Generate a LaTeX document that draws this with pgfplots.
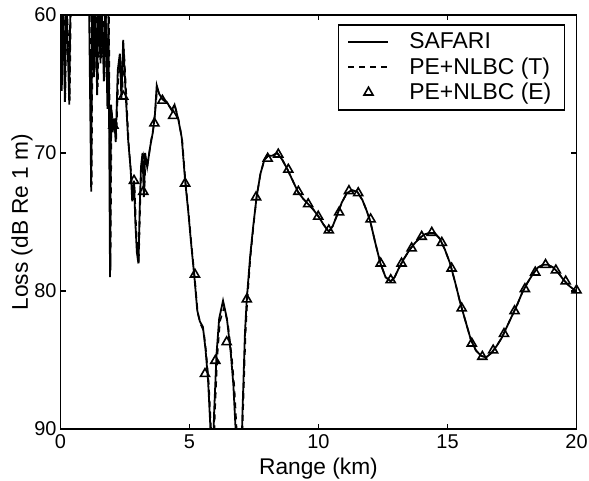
\documentclass[border=0pt]{standalone}
\usepackage{fontspec}
\setmainfont{Liberation Sans}
\usepackage{pgfplots}
\pgfplotsset{compat=1.18}
\usetikzlibrary{calc}
\pgfplotsset{
  lineleg/.style={legend image code/.code={\draw[##1] (0bp,0bp) -- (20bp,0bp); \path (28bp,0bp);}},
  markleg/.style={legend image code/.code={\draw[##1] plot coordinates {(10bp,0bp)}; \path (0bp,0bp) (28bp,0bp);}},
}

\begin{document}
\begin{tikzpicture}
\begin{axis}[
    scale only axis,
    width=258bp, height=207bp,
    xmin=0, xmax=20, ymin=60, ymax=90,
    y dir=reverse,
    xtick={0,5,10,15,20}, ytick={60,70,80,90},
    tick align=inside, tick pos=both,
    major tick length=2.6bp,
    axis line style={line width=0.9bp},
    every tick/.style={black, line width=0.8bp},
    /pgf/number format/assume math mode=true,
    tick label style={font=\fontsize{10}{12}\selectfont},
    xticklabel style={yshift=0.5bp},
    yticklabel style={xshift=1.5bp},
    label style={font=\fontsize{11.4}{13}\selectfont},
    xlabel={Range (km)},
    ylabel={Loss (dB Re 1 m)},
    xlabel style={yshift=2.5bp},
    ylabel style={yshift=-6bp},
    legend style={at={(axis description cs:0.978,0.978)}, anchor=north east,
        draw=black, line width=0.8bp, font=\fontsize{11.5}{11}\selectfont,
        inner xsep=4.5bp, inner ysep=2bp, row sep=-1.2bp,
        cells={anchor=west}},
    legend cell align=left,
]
% SAFARI
\addplot[black, line width=0.9bp, lineleg]
coordinates {
(0.00,58) (0.05,65.5) (0.09,58) (0.17,66.3) (0.22,58) (0.34,66.5) (0.39,58)
(1.10,58) (1.19,72.8) (1.23,58) (1.30,64.5) (1.34,58) (1.42,65.8) (1.47,58)
(1.55,63.5) (1.60,59) (1.68,64.8) (1.74,59) (1.82,66.8) (1.86,60)
(1.92,79) (1.96,66.5) (2.02,68.5) (2.08,67.5) (2.14,69.2) (2.22,64)
(2.30,62.8) (2.36,66) (2.43,61.8) (2.52,65.5) (2.62,69) (2.72,71.2)
(2.78,73.5) (2.85,72) (2.90,75) (2.96,77.2) (3.02,78) (3.07,74)
(3.12,71) (3.18,70) (3.23,73.2) (3.28,70) (3.36,71) (3.48,69.5)
(3.58,68.5) (3.66,67.2) (3.73,65.1) (3.82,65.7) (3.92,66.0) (4.12,66.3)
(4.31,66.9) (4.42,66.5) (4.57,67.6) (4.70,68.9) (4.83,72.0) (4.95,74.2)
(5.05,76.3) (5.20,79.2) (5.30,81.4) (5.40,82.2) (5.52,82.6) (5.62,84.2)
(5.72,86.5) (5.80,89.5) (5.86,93) (5.90,93) (5.95,89) (6.05,84.5)
(6.15,82) (6.30,80.7) (6.45,82) (6.60,84.5) (6.70,86.8) (6.80,90.5)
(6.85,93) (7.00,93) (7.05,89) (7.15,83) (7.22,80.6) (7.35,77.5)
(7.47,75.3) (7.60,73.2) (7.75,71.5) (7.90,70.5) (8.05,70.2) (8.20,70.2)
(8.40,70.0) (8.60,70.5) (8.80,71.2) (9.00,72.0) (9.20,72.8) (9.40,73.3)
(9.60,73.7) (9.80,74.1) (10.00,74.6) (10.20,75.2) (10.40,75.7) (10.55,75.3)
(10.70,74.6) (10.90,73.6) (11.10,72.9) (11.30,72.7) (11.50,72.8) (11.70,73.4)
(11.85,74.1) (12.00,74.9) (12.20,76.5) (12.40,78.0) (12.60,79.0) (12.80,79.3)
(12.95,79.0) (13.10,78.4) (13.30,77.7) (13.50,77.1) (13.70,76.6) (13.90,76.2)
(14.10,75.9) (14.30,75.8) (14.50,75.8) (14.70,76.2) (14.90,77.0) (15.10,78.0)
(15.30,79.4) (15.50,80.9) (15.70,82.2) (15.90,83.5) (16.10,84.3) (16.30,84.7)
(16.50,84.8) (16.70,84.5) (16.90,84.0) (17.10,83.4) (17.30,82.6) (17.50,81.8)
(17.70,81.0) (17.90,80.1) (18.10,79.4) (18.30,78.8) (18.50,78.3) (18.70,78.1)
(18.90,78.1) (19.10,78.3) (19.30,78.7) (19.50,79.2) (19.70,79.6) (19.90,79.9)
(20.00,80.0)
};
\addlegendentry{SAFARI}
% PE+NLBC (T)
\addplot[black, line width=0.8bp, dash pattern=on 3bp off 2.5bp, lineleg]
coordinates {
(0.00,58) (0.07,64.8) (0.11,58) (0.19,66) (0.24,58) (0.36,66.2) (0.41,58)
(1.12,58) (1.21,72.3) (1.25,58) (1.33,64) (1.37,58) (1.45,65.2) (1.50,58)
(1.58,63.2) (1.63,59) (1.71,64.5) (1.77,59) (1.84,66.2) (1.88,60)
(1.94,78.5) (1.98,66.8) (2.04,68.2) (2.10,68.0) (2.16,69.0) (2.24,64.5)
(2.33,63.3) (2.39,65.8) (2.46,62.5) (2.55,65.8) (2.65,69.5) (2.74,71.6)
(2.80,73.2) (2.87,72.4) (2.93,75.3) (2.98,77) (3.04,77.5) (3.09,73.6)
(3.14,70.8) (3.20,70.3) (3.25,72.8) (3.30,70.4) (3.38,70.8) (3.50,69.2)
(3.60,68.2) (3.67,67.0) (3.75,65.3) (3.84,65.8) (3.94,66.1) (4.14,66.4)
(4.33,66.9) (4.44,66.6) (4.59,67.7) (4.72,69.1) (4.85,72.2) (4.97,74.4)
(5.07,76.5) (5.22,79.4) (5.32,81.6) (5.43,82.4) (5.55,82.9) (5.65,84.5)
(5.75,86.8) (5.83,89.8) (5.89,93) (5.93,93) (5.98,89) (6.08,84.7)
(6.18,82.2) (6.34,81.2) (6.49,82.4) (6.64,84.8) (6.74,87) (6.84,90.5)
(6.89,93) (7.02,93) (7.07,89) (7.17,83.2) (7.24,80.7) (7.36,77.6)
(7.48,75.3) (7.60,73.2) (7.75,71.5) (7.90,70.5) (8.05,70.2) (8.20,70.2)
(8.40,70.0) (8.60,70.5) (8.80,71.2) (9.00,72.0) (9.20,72.8) (9.40,73.3)
(9.60,73.7) (9.80,74.1) (10.00,74.6) (10.20,75.2) (10.40,75.7) (10.55,75.3)
(10.70,74.6) (10.90,73.6) (11.10,72.9) (11.30,72.7) (11.50,72.8) (11.70,73.4)
(11.85,74.1) (12.00,74.9) (12.20,76.5) (12.40,78.0) (12.60,79.0) (12.80,79.3)
(12.95,79.0) (13.10,78.4) (13.30,77.7) (13.50,77.1) (13.70,76.6) (13.90,76.2)
(14.10,75.9) (14.30,75.8) (14.50,75.8) (14.70,76.2) (14.90,77.0) (15.10,78.0)
(15.30,79.4) (15.50,80.9) (15.70,82.2) (15.90,83.5) (16.10,84.3) (16.30,84.7)
(16.50,84.8) (16.70,84.5) (16.90,84.0) (17.10,83.4) (17.30,82.6) (17.50,81.8)
(17.70,81.0) (17.90,80.1) (18.10,79.4) (18.30,78.8) (18.50,78.3) (18.70,78.1)
(18.90,78.1) (19.10,78.3) (19.30,78.7) (19.50,79.2) (19.70,79.6) (19.90,79.9)
(20.00,80.0)
};
\addlegendentry{PE+NLBC (T)}
% PE+NLBC (E)
\addplot[black, only marks, mark=triangle, mark size=2.6bp,
    mark options={line width=0.8bp, fill=white}, markleg]
coordinates {
(1.60,62.8) (2.05,68.0) (2.43,65.9) (2.85,72.0) (3.21,72.8) (3.64,67.85)
(3.95,66.2) (4.37,67.3) (4.83,72.2) (5.21,78.8) (5.60,86.0) (6.00,85.05)
(6.44,83.7) (7.22,80.6) (7.58,73.2) (8.03,70.4) (8.44,70.1) (8.83,71.2)
(9.22,72.8) (9.60,73.7) (9.99,74.6) (10.40,75.6) (10.80,74.3) (11.18,72.75)
(11.54,72.9) (12.02,74.8) (12.41,78.0) (12.80,79.2) (13.22,78.0) (13.61,76.9)
(14.00,76.06) (14.39,75.77) (14.78,76.5) (15.16,78.36) (15.55,81.25) (15.94,83.8)
(16.35,84.76) (16.77,84.3) (17.19,83.1) (17.60,81.45) (18.00,79.85) (18.40,78.65)
(18.80,78.1) (19.20,78.5) (19.58,79.3) (20.00,79.95)
};
\addlegendentry{PE+NLBC (E)}
\coordinate (sw) at (axis description cs:0,0);
\coordinate (ne) at (axis description cs:1,1);
\end{axis}
\pgfresetboundingbox
\path[use as bounding box] ($(sw)+(-30.25bp,-26bp)$) rectangle ($(ne)+(6.25bp,7.5bp)$);
\end{tikzpicture}
\end{document}
